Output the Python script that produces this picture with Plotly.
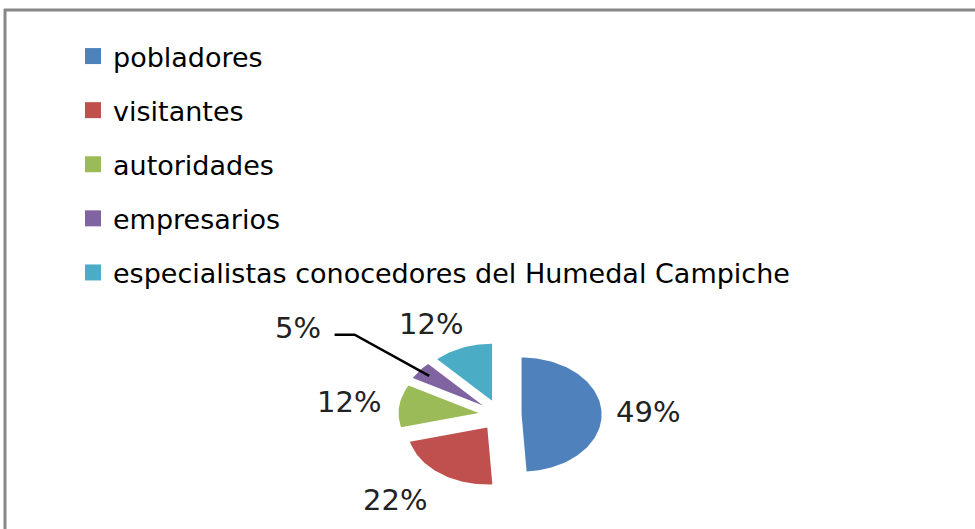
import math
import plotly.graph_objects as go

categories = ["pobladores", "visitantes", "autoridades", "empresarios",
              "especialistas conocedores del Humedal Campiche"]
values = [49, 22, 12, 5, 12]
labels_pct = ["49%", "22%", "12%", "5%", "12%"]
colors = ["#4F81BD", "#C0504D", "#9BBB59", "#8064A2", "#4BACC6"]

W, H = 975, 529
CX_PX, CY_PX = 500, 415      # pie centre in pixels
RX_PX, RY_PX = 80, 57        # ellipse semi-axes in pixels (one data unit each)
PULL = 0.27
LABEL_R = 1.85
LABEL_DX = [0.0, -0.22, -0.05, 0.0, -0.18]   # small horizontal nudges of the labels
LABEL_DY = [0.0, 0.0, 0.0, 0.0, -0.12]

fig = go.Figure()

total = sum(values)
start = 0.0
bisectors = []
for cat, v, col in zip(categories, values, colors):
    a0 = start / total * 2 * math.pi
    a1 = (start + v) / total * 2 * math.pi
    mid = (a0 + a1) / 2
    bisectors.append(mid)
    ox, oy = PULL * math.sin(mid), PULL * math.cos(mid)
    n = max(8, int(v * 2))
    xs, ys = [ox], [oy]
    for i in range(n + 1):
        t = a0 + (a1 - a0) * i / n
        xs.append(ox + math.sin(t))
        ys.append(oy + math.cos(t))
    xs.append(ox)
    ys.append(oy)
    fig.add_trace(go.Scatter(x=xs, y=ys, fill="toself", fillcolor=col, mode="lines",
                             line=dict(width=0, color=col), showlegend=False,
                             hoverinfo="skip"))
    start += v

# legend entries
for i, (cat, col) in enumerate(zip(categories, colors)):
    fig.add_trace(go.Scatter(x=[None], y=[None], mode="markers", name=cat,
                             legendgroup=f"g{i}",
                             marker=dict(symbol="square", size=16, color=col)))

PCT_FONT = dict(family="DejaVu Sans", size=29, color="#222")

# percentage labels
for i, (lab, mid) in enumerate(zip(labels_pct, bisectors)):
    if i == 3:
        continue
    fig.add_annotation(x=LABEL_R * math.sin(mid) + LABEL_DX[i],
                       y=LABEL_R * math.cos(mid) + LABEL_DY[i], text=lab,
                       showarrow=False, font=PCT_FONT)

# leader line for the small slice
mid = bisectors[3]
r_in = PULL + 0.85
ex, ey = 2.3 * math.sin(mid), 2.3 * math.cos(mid)
fig.add_trace(go.Scatter(x=[r_in * math.sin(mid), ex, ex - 0.25],
                         y=[r_in * math.cos(mid), ey, ey],
                         mode="lines", line=dict(color="black", width=2.5),
                         showlegend=False, hoverinfo="skip"))
fig.add_annotation(x=ex - 0.4, y=ey + 0.12, text=labels_pct[3], showarrow=False,
                   xanchor="right", font=PCT_FONT)

# frame
fig.add_shape(type="line", xref="paper", yref="paper", x0=4 / W, x1=1, y0=1 - 10 / H, y1=1 - 10 / H,
              line=dict(color="#878787", width=3))
fig.add_shape(type="line", xref="paper", yref="paper", x0=5 / W, x1=5 / W, y0=0, y1=1 - 9 / H,
              line=dict(color="#878787", width=3))

fig.update_layout(
    width=W, height=H,
    margin=dict(l=0, r=0, t=0, b=0),
    paper_bgcolor="white", plot_bgcolor="white",
    xaxis=dict(range=[-CX_PX / RX_PX, (W - CX_PX) / RX_PX], visible=False, fixedrange=True),
    yaxis=dict(range=[-(H - CY_PX) / RY_PX, CY_PX / RY_PX], visible=False, fixedrange=True),
    legend=dict(x=73 / W, y=1 - 32 / H, xanchor="left", yanchor="top",
                traceorder="grouped", tracegroupgap=16, itemsizing="trace",
                font=dict(family="DejaVu Sans", size=27, color="black"),
                bgcolor="rgba(0,0,0,0)"),
    showlegend=True,
)

fig.write_html("out.html", config={"displayModeBar": False},
               post_script="document.body.style.margin='0';")
